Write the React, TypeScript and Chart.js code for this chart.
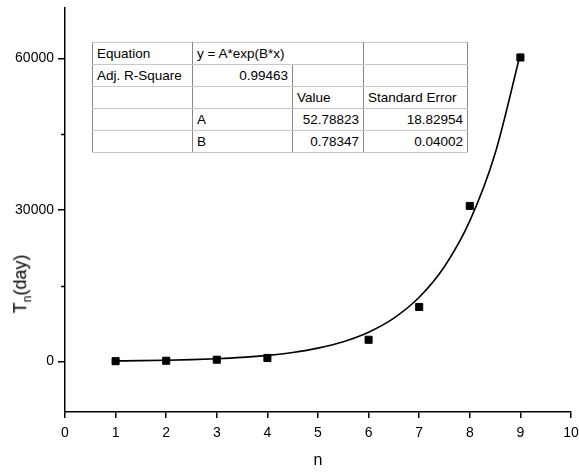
import React, { useEffect, useRef } from "react";
import { Chart, registerables } from "chart.js";

Chart.register(...registerables);

const nValues = [1, 2, 3, 4, 6, 7, 8, 9];
const tValues = [60, 150, 350, 700, 4300, 10800, 30800, 60200];

const fitX = [1, 1.5, 2, 2.5, 3, 3.5, 4, 4.5, 5, 5.5, 6, 6.5, 7, 7.5, 8, 8.5, 9];
const fitY = [116, 171, 253, 374, 554, 819, 1212, 1794, 2654, 3926, 5808, 8594, 12715, 18813, 27836, 41185, 60933];

const xTicks = [0, 1, 2, 3, 4, 5, 6, 7, 8, 9, 10];
const yMajorTicks = [0, 30000, 60000];
const yMinorTicks = [15000, 45000];

const FONT = "'Liberation Sans', Arial, Helvetica, sans-serif";

const minorTickPlugin = {
  id: "minorTicks",
  afterDraw(chart: any) {
    const y = chart.scales.y;
    const ctx = chart.ctx;
    ctx.save();
    ctx.strokeStyle = "#000";
    ctx.lineWidth = 1.5;
    for (const v of yMinorTicks) {
      const py = Math.round(y.getPixelForValue(v)) + 0.5;
      ctx.beginPath();
      ctx.moveTo(y.right - 4, py);
      ctx.lineTo(y.right, py);
      ctx.stroke();
    }
    ctx.restore();
  },
};

export default function App() {
  const ref = useRef<HTMLCanvasElement>(null);
  useEffect(() => {
    if (!ref.current) return;
    const chart = new Chart(ref.current, {
      type: "scatter",
      data: {
        datasets: [
          {
            data: nValues.map((n, i) => ({ x: n, y: tValues[i] })),
            pointStyle: "rect",
            pointRadius: 5,
            pointBorderWidth: 1,
            backgroundColor: "#000",
            borderColor: "#000",
            showLine: false,
            order: 0,
          },
          {
            data: fitX.map((x, i) => ({ x, y: fitY[i] })),
            showLine: true,
            pointRadius: 0,
            borderColor: "#000",
            borderWidth: 1.6,
            cubicInterpolationMode: "monotone",
            order: 1,
          },
        ],
      },
      options: {
        responsive: false,
        animation: false,
        devicePixelRatio: 1,
        layout: { padding: { top: 8, right: 8, left: 0, bottom: 0 } },
        plugins: { legend: { display: false }, tooltip: { enabled: false } },
        scales: {
          x: {
            type: "linear",
            min: 0,
            max: 10,
            afterBuildTicks: (s: any) => {
              s.ticks = xTicks.map((v) => ({ value: v }));
            },
            afterFit: (s: any) => {
              s.height = 62;
              s.paddingLeft = 0;
              s.paddingRight = 0;
            },
            ticks: { color: "#000", font: { family: FONT, size: 14 }, padding: 7, callback: (v: any) => String(v) },
            grid: { drawOnChartArea: false, drawTicks: true, tickLength: 6, color: "#000", lineWidth: 1.5 },
            border: { display: true, color: "#000", width: 1.5 },
            title: { display: true, text: "n", color: "#000", font: { family: FONT, size: 16 }, padding: { top: 4 } },
          },
          y: {
            type: "linear",
            min: -10000,
            max: 70000,
            afterBuildTicks: (s: any) => {
              s.ticks = yMajorTicks.map((v) => ({ value: v }));
            },
            afterFit: (s: any) => {
              s.width = 65;
              s.paddingTop = 0;
              s.paddingBottom = 0;
            },
            ticks: { color: "#000", font: { family: FONT, size: 14 }, padding: 4, callback: (v: any) => String(v) },
            grid: { drawOnChartArea: false, drawTicks: true, tickLength: 7, color: "#000", lineWidth: 1.5 },
            border: { display: true, color: "#000", width: 1.5 },
          },
        },
      },
      plugins: [minorTickPlugin],
    } as any);
    return () => chart.destroy();
  }, []);

  const cell: React.CSSProperties = {
    border: "1px solid #c8c8c8",
    borderLeft: "1px solid #888",
    borderRight: "1px solid #888",
    padding: "0 4px",
    height: 21,
    whiteSpace: "nowrap",
  };
  const right: React.CSSProperties = { ...cell, textAlign: "right" };

  return (
    <div style={{ position: "relative", width: 579, height: 474, fontFamily: FONT }}>
      <style>{`body{margin:0}`}</style>
      <canvas ref={ref} width={579} height={474} style={{ position: "absolute", left: 0, top: 0 }} />
      <table
        style={{
          position: "absolute",
          left: 92,
          top: 42,
          borderCollapse: "collapse",
          border: "1.5px solid #555",
          fontSize: 13.5,
          fontFamily: FONT,
          color: "#000",
          background: "#fff",
          tableLayout: "fixed",
          width: 375,
        }}
      >
        <colgroup>
          <col style={{ width: 100 }} />
          <col style={{ width: 100 }} />
          <col style={{ width: 71 }} />
          <col style={{ width: 104 }} />
        </colgroup>
        <tbody>
          <tr>
            <td style={cell}>Equation</td>
            <td style={cell} colSpan={2}>y = A*exp(B*x)</td>
            <td style={cell}></td>
          </tr>
          <tr>
            <td style={cell}>Adj. R-Square</td>
            <td style={right}>0.99463</td>
            <td style={cell}></td>
            <td style={cell}></td>
          </tr>
          <tr>
            <td style={cell}></td>
            <td style={cell}></td>
            <td style={cell}>Value</td>
            <td style={cell}>Standard Error</td>
          </tr>
          <tr>
            <td style={cell}></td>
            <td style={cell}>A</td>
            <td style={right}>52.78823</td>
            <td style={right}>18.82954</td>
          </tr>
          <tr>
            <td style={cell}></td>
            <td style={cell}>B</td>
            <td style={right}>0.78347</td>
            <td style={right}>0.04002</td>
          </tr>
        </tbody>
      </table>
      <div
        style={{
          position: "absolute",
          left: 22,
          top: 284,
          transform: "translate(-50%, -50%) rotate(-90deg)",
          fontSize: 18,
          color: "#000",
          whiteSpace: "nowrap",
          fontFamily: FONT,
        }}
      >
        T<sub style={{ fontSize: 12 }}>n</sub>(day)
      </div>
    </div>
  );
}
